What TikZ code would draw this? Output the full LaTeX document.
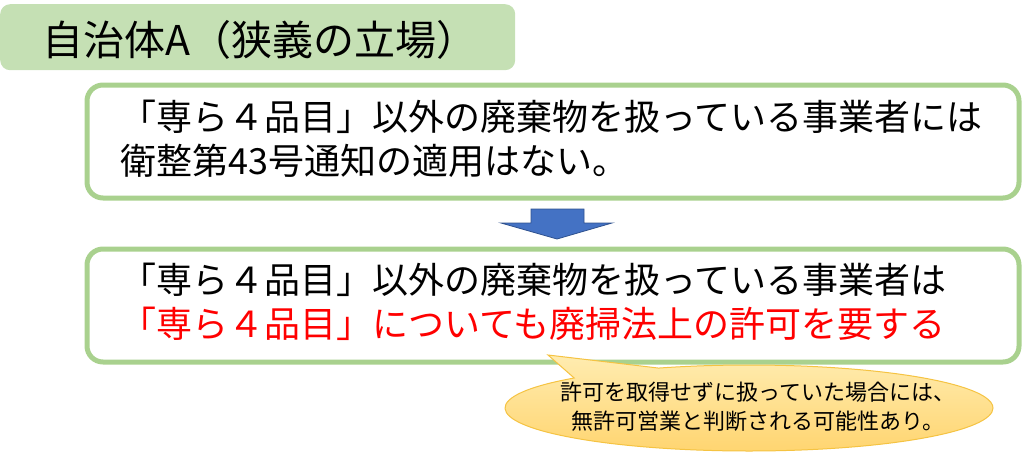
\documentclass[tikz,border=0pt]{standalone}
\usepackage{fontspec}
\setmainfont{Noto Sans CJK JP}
\usetikzlibrary{shapes.callouts}
\definecolor{boxgreen}{HTML}{A9D18E}
\definecolor{titlegreen}{HTML}{C5E0B4}
\definecolor{arrowblue}{HTML}{4472C4}
\definecolor{arrowedge}{HTML}{2F528F}
\definecolor{calltop}{HTML}{FFECB0}
\definecolor{callbot}{HTML}{FFD46E}
\definecolor{calledge}{HTML}{F5C342}
\definecolor{redtext}{HTML}{FF0000}
\tikzset{
  titlebox/.style={fill=titlegreen, rounded corners=10pt, anchor=north west, minimum width=515pt, minimum height=66pt, inner sep=0pt},
  titletext/.style={anchor=west, inner sep=0pt, font=\fontsize{41}{48}\selectfont},
  mainbox/.style={draw=boxgreen, line width=5pt, fill=white, rounded corners=16pt, anchor=north west, minimum width=932pt, inner sep=0pt},
  bodytext/.style={anchor=west, inner sep=0pt, align=left, font=\fontsize{36}{44}\selectfont},
  callbox/.style={ellipse callout, draw=calledge, line width=1pt, top color=calltop, bottom color=callbot, minimum width=488pt, minimum height=86pt, inner sep=0pt, callout pointer arc=24},
  calltext/.style={inner sep=0pt, align=center, font=\fontsize{22}{29}\selectfont},
  downarrow/.style={fill=arrowblue, draw=arrowedge, line width=0.8pt},
}
\begin{document}
\begin{tikzpicture}[x=1pt,y=-1pt]
\useasboundingbox (0,0) rectangle (1024,455);
% title
\node[titlebox] (title) at (0,4) {};
\node[titletext] (titlet) at (42,40) {自治体A（狭義の立場）};
% box 1
\node[mainbox, minimum height=113pt] (box1) at (84.5,82.5) {};
\node[bodytext] (text1) at (120,139) {「専ら４品目」以外の廃棄物を扱っている事業者には\\衛整第43号通知の適用はない。};
% arrow
\draw[downarrow] (531,209) -- (584,209) -- (584,223) -- (612,223) -- (557,239) -- (501,223) -- (531,223) -- cycle;
% box 2
\node[mainbox, minimum height=113pt] (box2) at (84.5,246.5) {};
\node[bodytext] (text2) at (120,302) {「専ら４品目」以外の廃棄物を扱っている事業者は\\\textcolor{redtext}{「専ら４品目」についても廃掃法上の許可を要する}};
% callout
\coordinate (tip) at (548,355);
\node[callbox, callout absolute pointer={(tip)}] (call) at (749,408) {};
\node[calltext] (callt) at (758,407) {許可を取得せずに扱っていた場合には、\\無許可営業と判断される可能性あり。};
\end{tikzpicture}
\end{document}
